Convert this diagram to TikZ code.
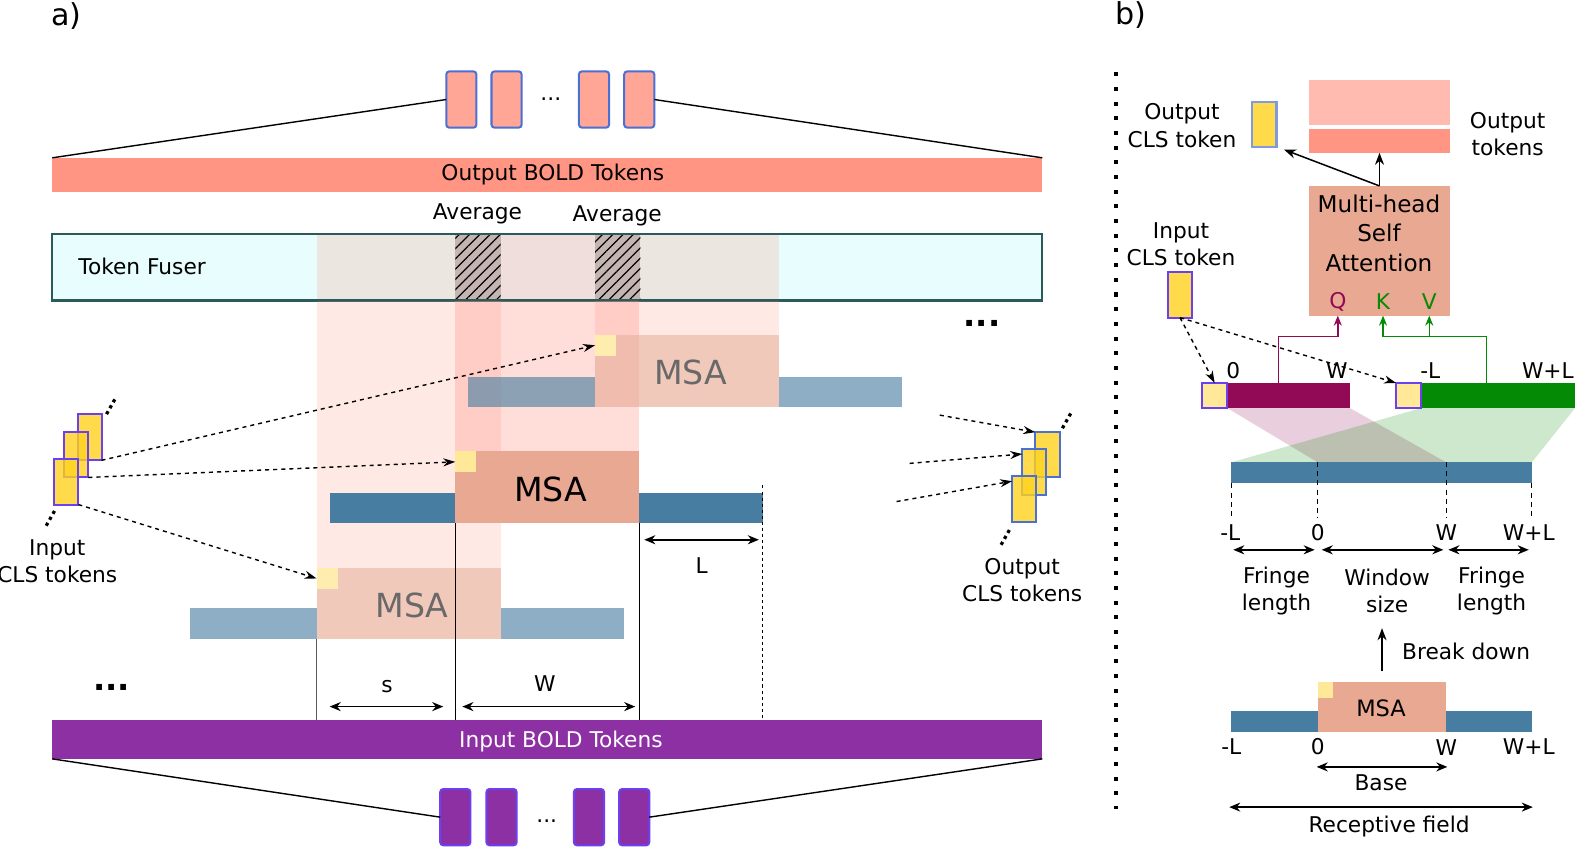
\documentclass[tikz,border=0pt]{standalone}
\usepackage{fontspec}
\setmainfont{DejaVu Sans}
\usetikzlibrary{fit,arrows.meta,patterns.meta}

\definecolor{tokred}{HTML}{FFA696}
\definecolor{tokblue}{HTML}{4A6FD5}
\definecolor{outred}{HTML}{FF9582}
\definecolor{lightred}{HTML}{FFBBB0}
\definecolor{inpurple}{HTML}{8C30A3}
\definecolor{tokviolet}{HTML}{6A40F0}
\definecolor{fusercyan}{HTML}{E8FEFE}
\definecolor{fuserline}{HTML}{2A5A5A}
\definecolor{fusergray}{HTML}{ECE6E1}
\definecolor{fuserpink}{HTML}{EFDEDB}
\definecolor{hatchgray}{HTML}{C4B5B2}
\definecolor{colpink}{HTML}{FF8F7F}
\definecolor{msafill}{HTML}{E8A892}
\definecolor{steel}{HTML}{477DA0}
\definecolor{sqyellow}{HTML}{FFE898}
\definecolor{sqfade}{HTML}{FFEDB0}
\definecolor{clsyellow}{HTML}{FFD21F}
\definecolor{fadetext}{HTML}{696969}
\definecolor{qmag}{HTML}{920A55}
\definecolor{kgreen}{HTML}{058A05}

\begin{document}
\begin{tikzpicture}[x=0.5pt,y=-0.5pt,
    font=\fontsize{10.8}{13.5}\selectfont,
    area/.style={inner sep=0pt,outer sep=0pt},
    tok/.style={area,rounded corners=1.5pt,line width=1pt},
    clstok/.style={area,line width=1pt,fill=clsyellow,fill opacity=0.8},
    msatext/.style={font=\fontsize{16.5}{20}\selectfont},
    arr/.style={line width=0.75pt,-{Stealth[length=6pt,width=4.5pt]}},
    dimarrow/.style={line width=0.75pt,{Stealth[length=5.5pt,width=4.5pt]}-{Stealth[length=5.5pt,width=4.5pt]}},
    dotarrow/.style={line width=0.7pt,dash pattern=on 2pt off 2pt,-{Stealth[length=6pt,width=4pt]}},
    dotline/.style={line width=1.6pt,dash pattern=on 1.6pt off 1.8pt},
    bigdots/.style={font=\bfseries\fontsize{16}{16}\selectfont},
    tickdash/.style={line width=0.5pt,dash pattern=on 2.5pt off 2pt},
    twoline/.style={align=center},
    kvarr/.style={line width=0.7pt,-{Stealth[length=5pt,width=4pt]}},
  ]
    \useasboundingbox (0,0) rectangle (1568,843);
    % Beschriftung
    \node[font=\fontsize{15}{15}\selectfont] (lbla) at (66,16) {a)};
    \node[font=\fontsize{15}{15}\selectfont] (lblb) at (1125,15) {b)};

    % Ausgabe-Tokens
    \foreach \xa [count=\n] in {444,489,576,621}
        \node[tok,fill=tokred,draw=tokblue,fit={(\xa,71) (\xa+30,127)}] (ot\n) {};
    \node (otdots) at (548,99) {...};
    \node[area,fill=outred,fit={(52,157) (1037,191)}] (outbar) {};
    \node (outtxt) at (550,174) {Output BOLD Tokens};
    \draw[line width=0.7pt] (outbar.north west) -- (ot1.west);
    \draw[line width=0.7pt] (ot4.east) -- (outbar.north east);

    % Token Fuser
    \node[area,fill=fusercyan,fit={(52,233) (1037,299)}] (fuser) {};
    \fill[fusergray] (315,233) rectangle (453,299);
    \fill[fuserpink] (498,233) rectangle (592,299);
    \fill[fusergray] (637,233) rectangle (775,299);
    \foreach \xa in {453,592} {
        \fill[hatchgray] (\xa,233) rectangle (\xa+45,299);
        \fill[pattern={Lines[angle=45,distance=3.6pt,line width=0.6pt]}] (\xa,233) rectangle (\xa+45,299);
    }
    \draw[fuserline,line width=1.1pt] (fuser.north west) rectangle (fuser.south east);
    \node[anchor=west] (fusertxt) at (71,265) {Token Fuser};
    \node (avg1) at (475,213) {Average};
    \node (avg2) at (614,215) {Average};

    % Spalten
    \fill[colpink,opacity=0.2] (315,299) rectangle (498,565);
    \fill[colpink,opacity=0.3] (453,299) rectangle (636,449);
    \fill[colpink,opacity=0.2] (592,299) rectangle (775,333);

    % obere MSA
    \fill[steel,opacity=0.62] (466,375) rectangle (592,405);
    \fill[steel,opacity=0.62] (775,375) rectangle (897,405);
    \node[area,fill=msafill,fill opacity=0.62,fit={(592,333) (775,405)}] (msaT) {};
    \node[area,fill=sqfade,fit={(592,333) (613,354)}] (sqT) {};
    \node[msatext,text=fadetext] (msaTtxt) at (687,371) {MSA};

    % untere MSA
    \fill[steel,opacity=0.62] (189,605) rectangle (315,636);
    \fill[steel,opacity=0.62] (498,605) rectangle (621,636);
    \node[area,fill=msafill,fill opacity=0.62,fit={(315,565) (498,636)}] (msaB) {};
    \node[area,fill=sqfade,fit={(315,565) (336,586)}] (sqB) {};
    \node[msatext,text=fadetext] (msaBtxt) at (410,602) {MSA};

    % mittlere MSA
    \node[area,fill=steel,fit={(328,490) (759,520)}] (barM) {};
    \node[area,fill=msafill,fit={(453,449) (636,520)}] (msaM) {};
    \node[area,fill=sqyellow,fit={(453,449) (474,470)}] (sqM) {};
    \node[msatext] (msaMtxt) at (548,487) {MSA};

    % Eingabe-Tokens
    \node[area,fill=inpurple,fit={(52,716) (1037,755)}] (inbar) {};
    \node[text=white] (intxt) at (558,738) {Input BOLD Tokens};
    \foreach \xa [count=\n] in {438,484,571,616}
        \node[tok,fill=inpurple,draw=tokviolet,fit={(\xa,785) (\xa+30,841)}] (it\n) {};
    \node (itdots) at (544,817) {...};
    \draw[line width=0.7pt] (inbar.south west) -- (it1.west);
    \draw[line width=0.7pt] (it4.east) -- (inbar.south east);

    % Hilfslinien
    \draw[line width=0.75pt,black!65] (msaB.south west) -- (msaB.south west |- inbar.north);
    \draw[line width=0.75pt] (msaM.south west) -- (msaM.south west |- inbar.north);
    \draw[line width=0.75pt] (msaM.south east) -- (msaM.south east |- inbar.north);
    \draw[line width=0.6pt,dash pattern=on 1.5pt off 1.5pt,shorten <=-3.5pt] (barM.north east) -- (barM.north east |- inbar.north);
    \draw[dimarrow] (328,703) -- (441,703);
    \node (ls) at (385,683) {s};
    \draw[dimarrow] (460,703) -- (632,703);
    \node (lw) at (542,680) {W};
    \draw[dimarrow] (641,537) -- (755,537);
    \node (ll) at (698,563) {L};
    \node[bigdots] (dotsa) at (111,684) {...};
    \node[bigdots] (dotsb) at (977,322) {...};

    % Eingabe-CLS
    \node[clstok,draw=tokviolet,fit={(78,412) (101,458)}] (ci3) {};
    \node[clstok,draw=tokviolet,fit={(64,430) (88,475)}] (ci2) {};
    \node[clstok,draw=tokviolet,fit={(54,457) (78,502)}] (ci1) {};
    \draw[dotline] (106,412) -- (115,396);
    \draw[dotline] (46,523) -- (55,507);
    \node[twoline] (cilbl) at (57,558) {Input\\CLS tokens};
    \draw[dotarrow] (ci3.south east) -- (sqT.west);
    \draw[dotarrow] (ci2.south east) -- (sqM.west);
    \draw[dotarrow] (ci1.south east) -- (sqB.west);

    % Ausgabe-CLS
    \node[clstok,draw=tokblue,fit={(1030,430) (1055,475)}] (co3) {};
    \node[clstok,draw=tokblue,fit={(1017,447) (1041,492)}] (co2) {};
    \node[clstok,draw=tokblue,fit={(1007,474) (1031,519)}] (co1) {};
    \draw[dotline] (1057,426) -- (1066,410);
    \draw[dotline] (996,542) -- (1005,526);
    \node[twoline] (colbl) at (1017,577) {Output\\CLS tokens};
    \coordinate (ca3) at (935,413);
    \coordinate (ca2) at (905,461);
    \coordinate (ca1) at (892,499);
    \draw[dotarrow] (ca3) -- (co3.north west);
    \draw[dotarrow] (ca2) -- (co2.124);
    \draw[dotarrow] (ca1) -- (co1.124);

    % Trennlinie
    \draw[line width=2pt,dash pattern=on 2pt off 5.3pt] (1110,72) -- (1110,805);

    % Attention
    \node[clstok,draw=tokblue!70,fit={(1246,101) (1270,146)}] (bco) {};
    \node[twoline] (bcolbl) at (1176,125) {Output\\CLS token};
    \node[area,fill=lightred,fit={(1302,80) (1443,124)}] (botl) {};
    \node[area,fill=outred,fit={(1302,128) (1443,152)}] (botd) {};
    \node[twoline] (botlbl) at (1500,133) {Output\\tokens};
    \node[area,fill=msafill,fit={(1302,185) (1443,314)}] (mhsa) {};
    \node[twoline,font=\fontsize{11.5}{14.7}\selectfont] (mhsatxt) at (1372,232) {Multi-head\\Self\\Attention};
    \node[text=qmag] (q) at (1331,300) {Q};
    \node[text=kgreen] (k) at (1376,300) {K};
    \node[text=kgreen] (v) at (1422,300) {V};
    \draw[arr] (mhsa.north) -- (botd.south);
    \draw[arr,shorten >=4pt] (mhsa.north) -- (bco.south east);
    \node[clstok,draw=tokviolet,fit={(1162,271) (1186,316)}] (bci) {};
    \node[twoline] (bcilbl) at (1175,243) {Input\\CLS token};

    % Q und K/V
    \node[area,fill=qmag,fit={(1221,381) (1343,406)}] (barQ) {};
    \node[area,fill=sqyellow,draw=tokviolet,line width=1pt,fit={(1196,381) (1221,406)}] (sqQ) {};
    \node[area,fill=kgreen,fit={(1414,381) (1567,406)}] (barK) {};
    \node[area,fill=sqyellow,draw=tokviolet,line width=1pt,fit={(1389,381) (1414,406)}] (sqK) {};
    \node (bq0) at (1227,369) {0};
    \node (bqW) at (1330,369) {W};
    \node (bkL) at (1423,369) {-L};
    \node (bkWL) at (1540,369) {W+L};
    \draw[dotarrow] (bci.south) -- (sqQ.north);
    \draw[dotarrow] (bci.south) -- (sqK.north west);
    \coordinate (ybend) at (0,335);
    \coordinate (qtap) at (1272,381);
    \coordinate (ktap) at (1479,381);
    \draw[kvarr,qmag] (qtap) |- (q |- ybend) -- (q |- mhsa.south);
    \draw[kvarr,kgreen] (ktap) |- (k |- ybend) -- (k |- mhsa.south);
    \draw[kvarr,kgreen] (v |- ybend) -- (v |- mhsa.south);

    % Aufteilung
    \coordinate (rL) at (1225,460);
    \coordinate (r0) at (1311,460);
    \coordinate (rW) at (1439,460);
    \coordinate (rWL) at (1524,460);
    \fill[qmag,opacity=0.2] (barQ.south west) -- (barQ.south east) -- (rW) -- (r0) -- cycle;
    \fill[kgreen,opacity=0.2] (barK.south west) -- (barK.south east) -- (rWL) -- (rL) -- cycle;
    \node[area,fill=steel,fit={(rL) (1524,481)}] (rbar) {};
    \coordinate (ytick) at (0,515);
    \draw[tickdash] (r0) -- (r0 |- ytick);
    \draw[tickdash] (rW) -- (rW |- ytick);
    \draw[tickdash] (rL |- rbar.south) -- (rL |- ytick);
    \draw[tickdash] (rWL |- rbar.south) -- (rWL |- ytick);
    \node (rlL) at (1224,530) {-L};
    \node (rl0) at (1311,530) {0};
    \node (rlW) at (1439,530) {W};
    \node (rlWL) at (1521,530) {W+L};
    \draw[dimarrow] (1227,547) -- (1308,547);
    \draw[dimarrow] (1315,547) -- (1436,547);
    \draw[dimarrow] (1441,547) -- (1521,547);
    \node[twoline] (fr1) at (1270,588) {Fringe\\length};
    \node[twoline] (win) at (1380,588) {Window\\size};
    \node[twoline] (fr2) at (1484,588) {Fringe\\length};

    % Basis
    \node[area,fill=steel,fit={(1225,707) (1524,728)}] (bbar) {};
    \node[area,fill=msafill,fit={(1311,679) (1439,728)}] (msab) {};
    \node[area,fill=sqyellow,fit={(1311,679) (1326,694)}] (sqb) {};
    \node[font=\fontsize{11.2}{13}\selectfont] (msabtxt) at (1374,705) {MSA};
    \draw[arr,shorten <=5.5pt] (msab.north) -- ++(0,-54);
    \node[anchor=west] (bdlbl) at (1388,648) {Break down};
    \node (blL) at (1225,743) {-L};
    \node (bl0) at (1311,743) {0};
    \node (blW) at (1439,744) {W};
    \node (blWL) at (1521,743) {W+L};
    \draw[dimarrow] (1310,763) -- (1440,763);
    \node (baselbl) at (1374,779) {Base};
    \draw[dimarrow] (1223,803) -- (1525,803);
    \node (rflbl) at (1382,822) {Receptive field};
\end{tikzpicture}
\end{document}
